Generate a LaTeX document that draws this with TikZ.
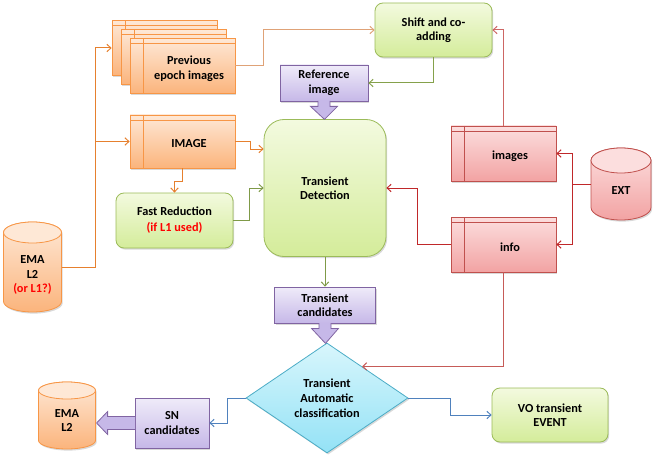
\documentclass[tikz,border=0pt]{standalone}
\usepackage{fontspec}
\setmainfont{Carlito}
\usetikzlibrary{shapes.geometric,arrows.meta,shadows,calc}
\pgfdeclarelayer{bg}
\pgfsetlayers{bg,main}
\definecolor{orBord}{HTML}{F79646}
\definecolor{orTop}{HTML}{FEE8D6}
\definecolor{orBot}{HTML}{FBB47C}
\definecolor{orLine}{HTML}{E6802E}
\definecolor{orTan}{HTML}{DFA277}
\definecolor{grBord}{HTML}{9BBB59}
\definecolor{grTop}{HTML}{F3FADF}
\definecolor{grBot}{HTML}{D4EC9A}
\definecolor{grLine}{HTML}{7F9A48}
\definecolor{puBord}{HTML}{8064A2}
\definecolor{puTop}{HTML}{EFEBF9}
\definecolor{puBot}{HTML}{C6B8E8}
\definecolor{reBord}{HTML}{C0504D}
\definecolor{reTop}{HTML}{FCDEDE}
\definecolor{reBot}{HTML}{F2A3A3}
\definecolor{reLine}{HTML}{C0282A}
\definecolor{blBord}{HTML}{4BACC6}
\definecolor{blTop}{HTML}{D8F6FC}
\definecolor{blBot}{HTML}{94E2F6}
\definecolor{blLine}{HTML}{4F81BD}
\definecolor{txRed}{HTML}{FF0000}
\tikzset{
  every node/.style={font=\fontsize{12.3}{14.5}\selectfont\bfseries, align=center, inner sep=0pt},
  shad/.style={drop shadow={opacity=0.25, shadow xshift=1.2pt, shadow yshift=-1.6pt, fill=black!60}},
  docbox/.style={rectangle, line width=0.8pt, minimum width=105pt, minimum height=55pt, shad,
    path picture={
      \draw[line width=0.8pt, #1] ([xshift=13pt]path picture bounding box.north west) -- ([xshift=13pt]path picture bounding box.south west);
      \draw[line width=0.8pt, #1] ([yshift=-5pt]path picture bounding box.north west) -- ([yshift=-5pt]path picture bounding box.north east);}},
  odoc/.style={docbox=orBord, draw=orBord, top color=orTop, bottom color=orBot},
  rdoc/.style={docbox=reBord, draw=reBord, top color=reTop, bottom color=reBot},
  doctext/.style={xshift=6.5pt, yshift=-2.5pt},
  gbox/.style={rectangle, rounded corners=8pt, draw=grBord, line width=0.8pt, top color=grTop, bottom color=grBot, shad},
  pbox/.style={rectangle, draw=puBord, line width=0.8pt, top color=puTop, bottom color=puBot, shad},
  dia/.style={diamond, aspect=1.47, minimum width=162pt, minimum height=110pt, draw=blBord, line width=0.8pt, top color=blTop, bottom color=blBot, shad},
  cylnode/.style={rectangle},
  conn/.style={line width=1pt, -{Straight Barb[length=4pt,width=7.5pt]}},
  blockarr/.style={draw=puBord, fill=puBot, line width=0.8pt, line join=miter}
}
% #1 node, #2 half width, #3 half height, #4 end radius, #5 border, #6 top, #7 bottom
\newcommand\mycyl[7]{%
  \begin{pgfonlayer}{bg}
  \begin{scope}[shift={(#1.center)}, x=1pt, y=1pt]
    \path[shad, draw=#5, line width=0.8pt, top color=#6, bottom color=#7]
      (-#2,#3-#4) -- (-#2,-#3+#4) arc[start angle=180,end angle=360,x radius=#2,y radius=#4]
      -- (#2,#3-#4) arc[start angle=0,end angle=180,x radius=#2,y radius=#4] -- cycle;
    \path[draw=#5, fill=#6, line width=0.8pt] (0,#3-#4) ellipse[x radius=#2, y radius=#4];
  \end{scope}
  \end{pgfonlayer}}
\begin{document}
\begin{tikzpicture}[x=1pt,y=-1pt]
\useasboundingbox (0,0) rectangle (654,460);
% previous epoch stack
\node[odoc] (back) at (164.5,48) {};
\node[odoc] (mid) at (173.5,57) {};
\node[odoc, label={[doctext]center:{Previous\\epoch images}}] (front) at (182.5,66) {};
\node[odoc, minimum height=53pt, label={[doctext]center:IMAGE}] (image) at (182.5,141.5) {};
\node[gbox, minimum width=117pt, minimum height=55pt] (fast) at (174.5,220.5) {Fast Reduction\\[1.5pt]\textcolor{txRed}{(if L1 used)}};
\node[gbox, rounded corners=20pt, minimum width=122pt, minimum height=137pt] (td) at (325,188) {Transient\\Detection};
\node[pbox, minimum width=88pt, minimum height=36pt] (ref) at (324,83) {Reference\\image};
\node[pbox, minimum width=101pt, minimum height=36pt] (tc) at (325,305) {Transient\\candidates};
\node[dia] (dia) at (327,398) {Transient\\[0.5pt]Automatic\\[0.5pt]classification};
\node[gbox, minimum width=117pt, minimum height=54pt] (shift) at (433.5,30) {Shift and co-\\adding};
\node[rdoc, label={[doctext]center:images}] (images) at (503.5,153.5) {};
\node[rdoc, label={[doctext]center:info}] (info) at (503.5,244.5) {};
\node[cylnode, minimum width=60pt, minimum height=72pt, label={[yshift=-6.5pt]center:EXT}] (ext) at (621,184) {};
\node[cylnode, minimum width=58pt, minimum height=90pt, label={[yshift=-8pt]center:{EMA\\L2\\\textcolor{txRed}{(or L1?)}}}] (ema1) at (32.5,267) {};
\node[cylnode, minimum width=57pt, minimum height=67pt, label={[yshift=-5pt]center:{EMA\\L2}}] (ema2) at (67,415.5) {};
\mycyl{ext}{30}{36}{12.5}{reBord}{reTop}{reBot}
\mycyl{ema1}{29}{45}{10.5}{orBord}{orTop}{orBot}
\mycyl{ema2}{28.5}{33.5}{8.5}{orBord}{orTop}{orBot}
\node[pbox, minimum width=74pt, minimum height=50pt] (sn) at (172,423) {SN\\candidates};
\node[gbox, minimum width=116pt, minimum height=54pt] (vo) at (550,415) {VO transient\\EVENT};
% block arrows
\path[blockarr] ($(ref.south)+(-6,-0.4)$) -- ++(0,5.4) -- ++(-7.5,0) -- ($(ref.south)+(0.5,18)$) -- ($(ref.south)+(13.5,5)$) -- ++(-7.5,0) -- ++(0,-5.4);
\path[blockarr] ($(tc.south)+(-6,-0.4)$) -- ++(0,5.4) -- ++(-7.5,0) -- ($(tc.south)+(0.5,20)$) -- ($(tc.south)+(13.5,5)$) -- ++(-7.5,0) -- ++(0,-5.4);
\path[blockarr] ($(sn.west)+(0.4,-6.5)$) -- ++(-27.4,0) -- ++(0,-5) -- ($(sn.west)+(-38,0)$) -- ($(sn.west)+(-27,11.5)$) -- ++(0,-5) -- ++(27.4,0);
% connectors
\coordinate (trunk) at ($(ema1.east)+(34,0)$);
\draw[conn, orLine] (ema1.east) -- (trunk) |- (back.west);
\draw[conn, orLine] (trunk) |- (image.west);
\draw[conn, orTan] (front.east) -- ++(28,0) |- (shift.west);
\draw[conn, orLine] (image.east) -- ++(15,0) |- ($(td.west)+(0,-39)$);
\draw[conn, orLine] (image.south) -- ++(0,13) -| (fast.north);
\draw[conn, grLine] (fast.east) -- ++(16,0) |- (td.west);
\draw[conn, grLine!80!grBord] (shift.south) |- (ref.east);
\draw[conn, grLine] (td.south) -- (tc.north);
\draw[conn, reBord!80!pink] (images.north) |- (shift.east);
\coordinate (extj) at ($(ext.west)+(-18,0)$);
\draw[conn, reLine] (ext.west) -- (extj) |- (images.east);
\draw[conn, reLine] (extj) |- (info.east);
\draw[conn, reLine] (info.west) -- ++(-33,0) |- (td.east);
\draw[conn, reBord!90!pink] (info.south) |- (dia.42);
\draw[conn, blLine] (dia.west) -- ++(-18,0) |- (sn.east);
\draw[conn, blLine] (dia.east) -- ++(42,0) |- (vo.west);
\end{tikzpicture}
\end{document}
